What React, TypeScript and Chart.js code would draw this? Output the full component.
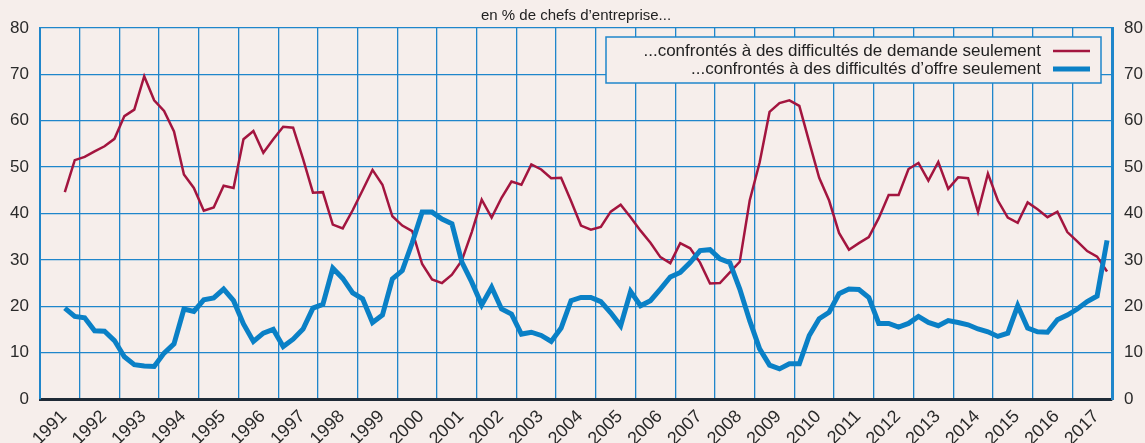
import React, { useEffect, useRef } from 'react';
import { Chart, registerables } from 'chart.js';

Chart.register(...registerables);

// Year ticks (one interval per year)
const yearLabels = [
  1991, 1992, 1993, 1994, 1995, 1996, 1997, 1998, 1999, 2000, 2001, 2002, 2003, 2004,
  2005, 2006, 2007, 2008, 2009, 2010, 2011, 2012, 2013, 2014, 2015, 2016, 2017,
];

// Quarterly series, starting 1991 Q3, ending 2017 Q4
const startYear = 1991;
const startQuarter = 3;

const demandeSeulement = [
  44.6, 51.5,
  52.2, 53.4, 54.5, 56.1,
  61.0, 62.4, 69.6, 64.4,
  62.1, 57.7, 48.4, 45.5,
  40.6, 41.3, 46.0, 45.5,
  56.0, 57.8, 53.1, 56.0,
  58.7, 58.5, 51.8, 44.5,
  44.6, 37.6, 36.8, 40.7,
  45.0, 49.4, 46.2, 39.4,
  37.4, 36.2, 29.1, 25.8,
  25.0, 26.8, 29.9, 36.0,
  43.0, 39.1, 43.4, 46.9,
  46.2, 50.6, 49.5, 47.6,
  47.7, 42.7, 37.4, 36.5,
  37.1, 40.4, 41.9, 39.2,
  36.3, 33.7, 30.6, 29.3,
  33.6, 32.5, 29.4, 24.9,
  25.0, 27.3, 29.6, 42.8,
  51.0, 61.9, 63.8, 64.4,
  63.2, 55.4, 47.7, 42.8,
  35.8, 32.2, 33.6, 34.9,
  39.0, 44.0, 44.0, 49.6,
  50.9, 47.1, 51.1, 45.3,
  47.8, 47.6, 40.3, 48.6,
  42.8, 39.1, 38.0, 42.4,
  40.9, 39.2, 40.4, 36.0,
  34.0, 31.9, 30.7, 27.5,
];

const offreSeulement = [
  19.6, 17.8,
  17.5, 14.7, 14.6, 12.6,
  9.1, 7.4, 7.1, 7.0,
  9.9, 11.9, 19.4, 18.9,
  21.4, 21.8, 23.7, 21.2,
  16.2, 12.4, 14.2, 15.0,
  11.3, 12.9, 15.1, 19.6,
  20.4, 28.2, 26.0, 22.9,
  21.6, 16.5, 18.1, 25.9,
  27.7, 33.7, 40.3, 40.3,
  38.8, 37.8, 29.5, 25.2,
  20.3, 24.1, 19.4, 18.3,
  14.0, 14.4, 13.7, 12.4,
  15.3, 21.2, 21.9, 21.9,
  21.0, 18.6, 15.8, 23.2,
  20.1, 21.2, 23.7, 26.3,
  27.3, 29.4, 32.0, 32.2,
  30.2, 29.4, 23.7, 16.9,
  10.8, 7.3, 6.5, 7.6,
  7.6, 13.7, 17.3, 18.7,
  22.7, 23.7, 23.6, 21.9,
  16.3, 16.3, 15.5, 16.3,
  17.8, 16.5, 15.8, 16.9,
  16.5, 16.0, 15.1, 14.5,
  13.5, 14.2, 20.1, 15.3,
  14.5, 14.4, 17.1, 18.1,
  19.4, 21.0, 22.2, 34.2,
];

const yTicks = [0, 10, 20, 30, 40, 50, 60, 70, 80];

const subtitle = 'en % de chefs d\u2019entreprise...';
const legendDemande = '...confrontés à des difficultés de demande seulement';
const legendOffre = '...confrontés à des difficultés d\u2019offre seulement';

const BG = '#f6eeeb';
const GRID = '#1f86cb';
const RED = '#a3153f';
const BLUE = '#0a80c6';
const FONT = '"Liberation Sans", Arial, Helvetica, sans-serif';

const toPoints = (vals: number[]) =>
  vals.map((v, i) => {
    const qIndex = startQuarter - 1 + i;
    return { x: startYear + (qIndex + 0.5) / 4, y: v };
  });

const decorPlugin = {
  id: 'decor',
  beforeDraw(chart: any) {
    const ctx = chart.ctx;
    ctx.save();
    ctx.fillStyle = BG;
    ctx.fillRect(0, 0, chart.width, chart.height);
    ctx.restore();
  },
  afterDraw(chart: any) {
    const ctx = chart.ctx;
    ctx.save();
    // subtitle
    ctx.fillStyle = '#222';
    ctx.font = `15px ${FONT}`;
    ctx.textAlign = 'center';
    ctx.textBaseline = 'middle';
    ctx.fillText(subtitle, 576, 16);

    // legend box
    const bx = 606, by = 37, bw = 495, bh = 46;
    ctx.fillStyle = BG;
    ctx.fillRect(bx, by, bw, bh);
    ctx.strokeStyle = GRID;
    ctx.lineWidth = 1.5;
    ctx.strokeRect(bx, by, bw, bh);

    ctx.fillStyle = '#222';
    ctx.font = `17px ${FONT}`;
    ctx.textAlign = 'right';
    ctx.textBaseline = 'middle';
    ctx.fillText(legendDemande, 1041, 51);
    ctx.fillText(legendOffre, 1041, 69);

    ctx.lineCap = 'butt';
    ctx.strokeStyle = RED;
    ctx.lineWidth = 2.5;
    ctx.beginPath();
    ctx.moveTo(1053, 51);
    ctx.lineTo(1090, 51);
    ctx.stroke();
    ctx.strokeStyle = BLUE;
    ctx.lineWidth = 5;
    ctx.beginPath();
    ctx.moveTo(1053, 69);
    ctx.lineTo(1090, 69);
    ctx.stroke();
    ctx.restore();
  },
};

export default function App() {
  const ref = useRef<HTMLCanvasElement | null>(null);

  useEffect(() => {
    if (!ref.current) return;
    const tickFont = { family: FONT, size: 17 };
    const chart = new Chart(ref.current, {
      type: 'line',
      data: {
        datasets: [
          {
            label: legendDemande,
            data: toPoints(demandeSeulement),
            borderColor: RED,
            borderWidth: 2.5,
            pointRadius: 0,
            tension: 0,
            fill: false,
            order: 1,
            yAxisID: 'y',
          },
          {
            label: legendOffre,
            data: toPoints(offreSeulement),
            borderColor: BLUE,
            borderWidth: 5,
            pointRadius: 0,
            tension: 0,
            fill: false,
            order: 0,
            yAxisID: 'y',
          },
        ],
      },
      plugins: [decorPlugin],
      options: {
        animation: false,
        responsive: false,
        maintainAspectRatio: false,
        layout: { padding: { top: 28, left: 0, right: 0, bottom: 0 } },
        plugins: {
          legend: { display: false },
          tooltip: { enabled: false },
          title: { display: false },
        },
        scales: {
          x: {
            type: 'linear',
            min: yearLabels[0],
            max: yearLabels[yearLabels.length - 1] + 1,
            afterBuildTicks: (scale: any) => {
              const t = yearLabels.map((y) => ({ value: y }));
              t.push({ value: yearLabels[yearLabels.length - 1] + 1 });
              scale.ticks = t;
            },
            ticks: {
              autoSkip: false,
              minRotation: 45,
              maxRotation: 45,
              labelOffset: 24,
              padding: 7,
              color: '#2a2a2a',
              font: { family: FONT, size: 18 },
              callback: (v: any) => (yearLabels.includes(Number(v)) ? String(v) : ''),
            },
            grid: { color: GRID, lineWidth: 1.3, drawTicks: false },
            border: { color: '#1e2a36', width: 3 },
            afterFit: (s: any) => {
              s.height = 44;
            },
          },
          y: {
            position: 'left',
            min: 0,
            max: 80,
            afterBuildTicks: (scale: any) => {
              scale.ticks = yTicks.map((v) => ({ value: v }));
            },
            ticks: { padding: 11, color: '#2a2a2a', font: tickFont },
            grid: {
              color: (c: any) => (c.tick && c.tick.value === 0 ? 'rgba(0,0,0,0)' : GRID),
              lineWidth: 1.3,
              drawTicks: false,
            },
            border: { color: GRID, width: 2 },
            afterFit: (s: any) => {
              s.width = 40;
            },
          },
          y2: {
            position: 'right',
            min: 0,
            max: 80,
            afterBuildTicks: (scale: any) => {
              scale.ticks = yTicks.map((v) => ({ value: v }));
            },
            ticks: { padding: 12, color: '#2a2a2a', font: tickFont },
            grid: { display: false, drawTicks: false },
            border: { color: GRID, width: 3 },
            afterFit: (s: any) => {
              s.width = 33;
            },
          },
        },
      },
    } as any);
    return () => chart.destroy();
  }, []);

  return (
    <div style={{ position: 'fixed', left: 0, top: 0, width: 1145, height: 443, background: BG }}>
      <canvas ref={ref} width={1145} height={443} style={{ width: 1145, height: 443, display: 'block' }} />
    </div>
  );
}
